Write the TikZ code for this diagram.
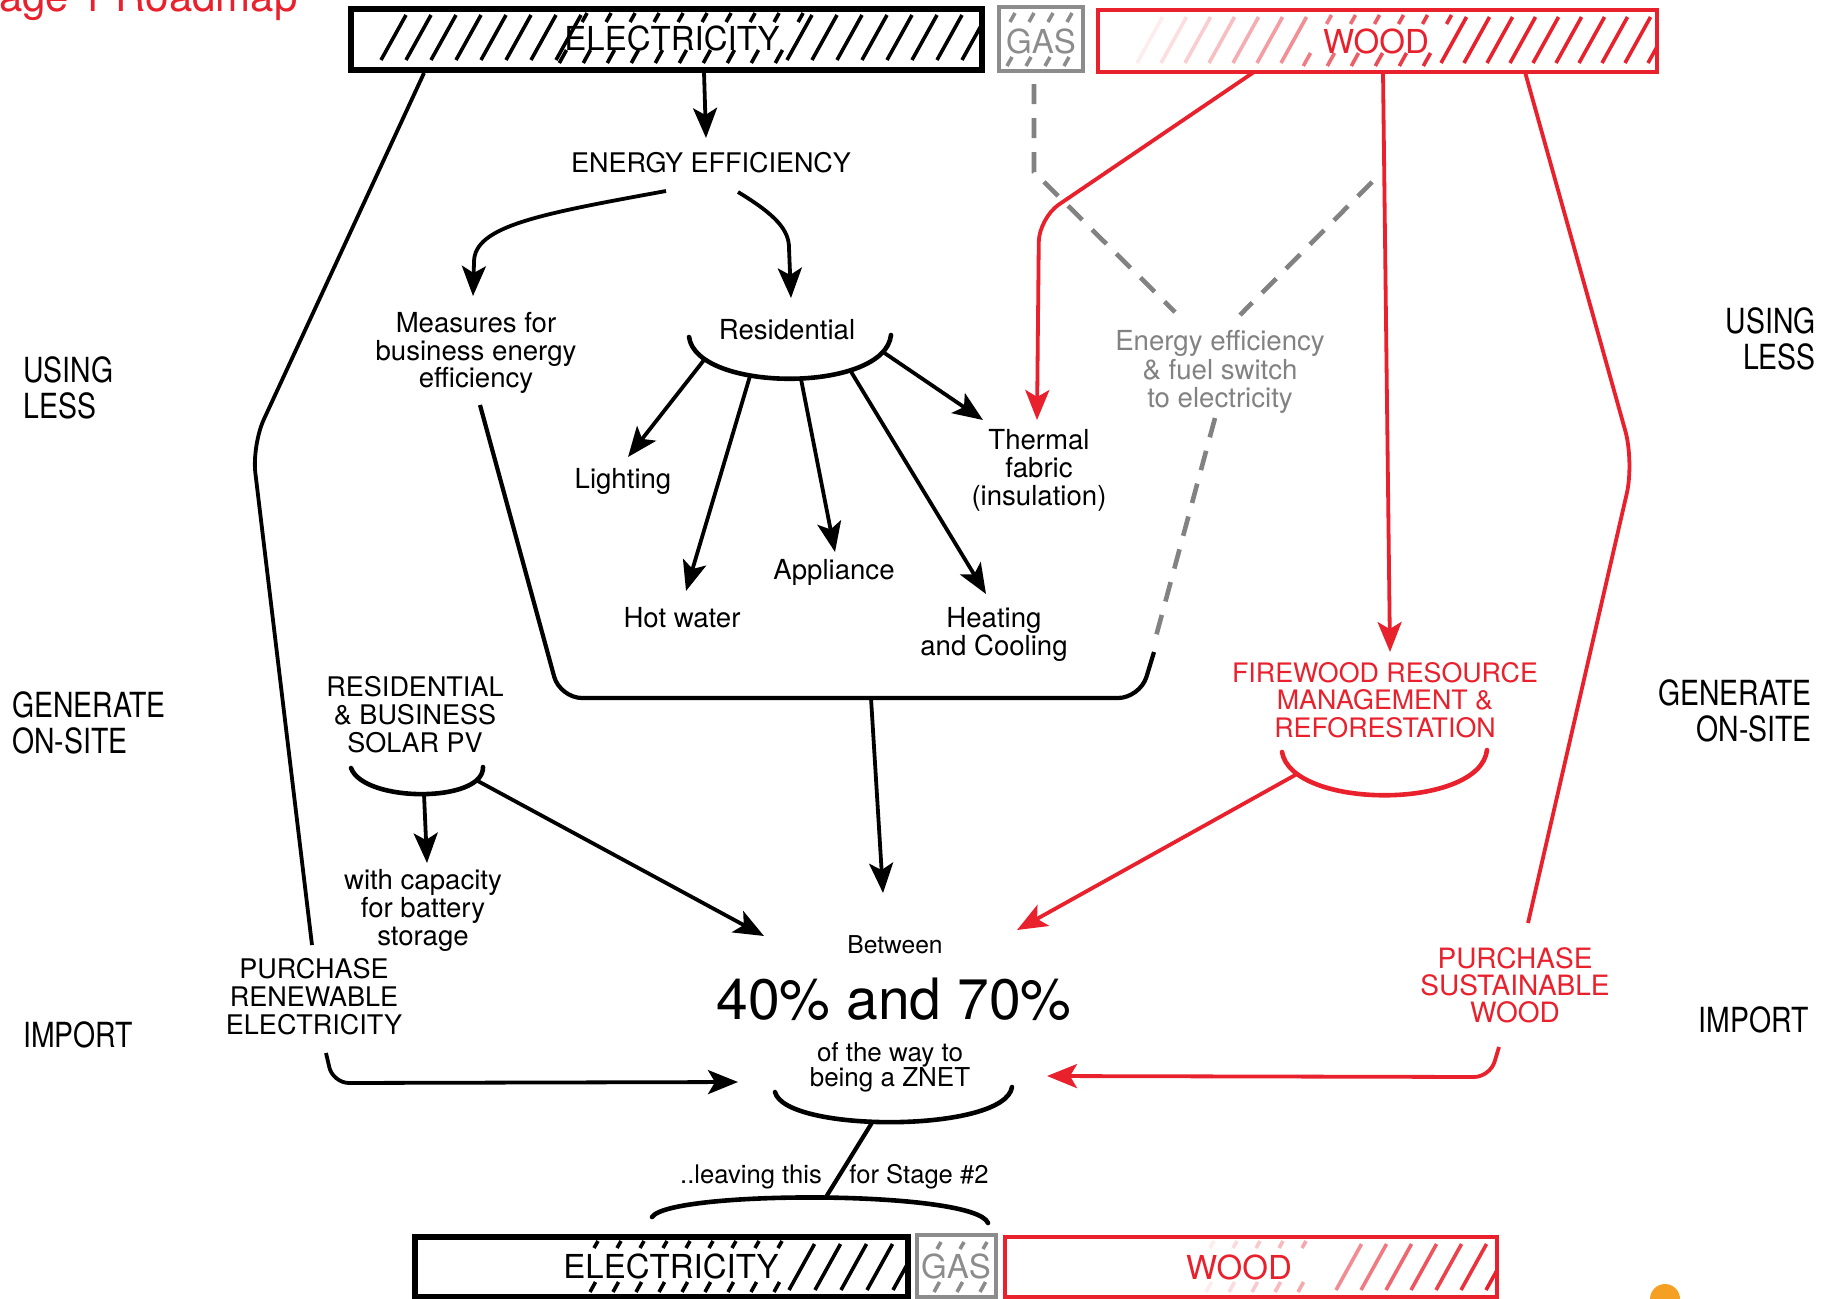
\documentclass[tikz,border=0pt]{standalone}
\usepackage{fontspec}
\setmainfont{TeX Gyre Heros}
\newfontfamily\condfont[FakeStretch=0.82]{TeX Gyre Heros}
\usetikzlibrary{arrows.meta}
\definecolor{wred}{RGB}{232,33,45}
\definecolor{wgray}{RGB}{130,130,130}
\definecolor{gasgray}{RGB}{140,140,140}
\definecolor{sunorange}{RGB}{245,160,35}
\tikzset{
  conn/.style={line width=1.9pt, draw=black},
  arr/.style={conn, -{Stealth[length=15pt,width=12pt,inset=3.5pt]}},
  redconn/.style={line width=1.9pt, draw=wred},
  redarr/.style={redconn, -{Stealth[length=15pt,width=12pt,inset=3.5pt]}},
  bracestyle/.style={line width=2.3pt, draw=black, line cap=round},
  redbrace/.style={line width=2.3pt, draw=wred, line cap=round},
  gdash/.style={draw=wgray, line width=2.3pt, dash pattern=on 10pt off 7pt},
  hatchline/.style={line width=1.8pt},
  lbl/.style={font=\fontsize{13.8}{14}\selectfont, align=center, inner sep=0pt},
  capslbl/.style={font=\fontsize{13.5}{14}\selectfont, align=center, inner sep=0pt},
  sidelbl/.style={font=\condfont\fontsize{17.3}{17.8}\selectfont, inner sep=0pt},
  boxlbl/.style={font=\fontsize{16.5}{18}\selectfont, inner sep=0pt},
  boxshape/.style={rectangle, inner sep=0pt},
}
\begin{document}
\begin{tikzpicture}[x=0.5pt,y=-0.5pt]
\useasboundingbox (0,0) rectangle (1830,1298);
\clip (0,0) rectangle (1830,1298);
\fill[white] (0,0) rectangle (1830,1298);

% ---------- title fragment ----------
\node[anchor=base east, text=wred, font=\fontsize{21}{24}\selectfont, inner sep=0pt] (title) at (298,11) {Stage 1 Roadmap};

% ---------- top hatching ----------
\begin{scope}
\clip (353,11) rectangle (980,68);
\foreach \x in {381,406,...,556} \draw[hatchline] (\x,60) -- ++(25,-45);
\foreach \x in {561,585,...,777} {\draw[hatchline] (\x-1.7,63) -- ++(7.2,-13); \draw[hatchline] (\x+21.1,22) -- ++(5,-9);}
\foreach \x in {787,812,...,962} \draw[hatchline] (\x,60) -- ++(25,-45);
\end{scope}
\begin{scope}
\clip (1001,9) rectangle (1081,69);
\foreach \x in {1007,1026,1045,1064} {\draw[hatchline, draw=gasgray] (\x,66) -- ++(5,-9); \draw[hatchline, draw=gasgray] (\x+3,22) -- ++(5,-9);}
\end{scope}
\begin{scope}
\clip (1100,12) rectangle (1655,70);
\foreach \x in {1137,1161,...,1281} {\pgfmathtruncatemacro\p{max(6,min(100,(\x-1110)/3.3))}\draw[hatchline, draw=wred!\p!white] (\x,63) -- ++(25.5,-46);}
\foreach \x in {1305,1329,...,1425} {\pgfmathtruncatemacro\p{max(6,min(100,(\x-1110)/3.3))}\draw[hatchline, draw=wred!\p!white] (\x-1.7,66) -- ++(7.2,-13); \draw[hatchline, draw=wred!\p!white] (\x+21.5,24) -- ++(5,-9);}
\foreach \x in {1441,1464,...,1648} \draw[hatchline, draw=wred] (\x,63) -- ++(25.5,-46);
\end{scope}

% ---------- bottom hatching ----------
\begin{scope}
\clip (417,1239) rectangle (906,1298);
\foreach \x in {590,613,...,781} {\draw[hatchline] (\x,1292) -- ++(5.5,-10); \draw[hatchline] (\x+4,1248) -- ++(4,-7);}
\foreach \x in {789,815,...,897} \draw[hatchline] (\x,1290) -- ++(25.5,-46);
\end{scope}
\begin{scope}
\clip (919,1237) rectangle (994,1298);
\foreach \x in {934,957,980} {\draw[hatchline, draw=gasgray] (\x,1292) -- ++(5.5,-10); \draw[hatchline, draw=gasgray] (\x+3,1249) -- ++(4,-7);}
\end{scope}
\begin{scope}
\clip (1007,1239) rectangle (1495,1298);
\foreach \x in {1206,1229,...,1320} {\pgfmathtruncatemacro\p{max(6,min(100,(\x-1180)/3))}\draw[hatchline, draw=wred!\p!white] (\x,1292) -- ++(5.5,-10); \draw[hatchline, draw=wred!\p!white] (\x+4,1248) -- ++(4,-7);}
\foreach \x in {1336,1361,...,1486} {\pgfmathtruncatemacro\p{max(6,min(100,(\x-1180)/3))}\draw[hatchline, draw=wred!\p!white] (\x,1290) -- ++(25.5,-46);}
\end{scope}

% ---------- boxes ----------
\node[boxshape, draw=black, line width=2.6pt, minimum width=315.5pt, minimum height=30.5pt] (elecTop) at (666.5,39.5) {};
\node[boxshape, draw=gasgray, line width=1.8pt, minimum width=42pt, minimum height=32pt] (gasTop) at (1041,39) {};
\node[boxshape, draw=wred, line width=2.1pt, minimum width=279.5pt, minimum height=31pt] (woodTop) at (1377.5,41) {};
\node[boxshape, draw=black, line width=2.6pt, minimum width=246.5pt, minimum height=30pt] (elecBot) at (661.5,1267) {};
\node[boxshape, draw=gasgray, line width=1.8pt, minimum width=39.5pt, minimum height=31pt] (gasBot) at (956.5,1266) {};
\node[boxshape, draw=wred, line width=2.1pt, minimum width=246pt, minimum height=30pt] (woodBot) at (1251,1267) {};

\node[boxlbl] (elecTopT) at (672,38.5) {ELECTRICITY};
\node[boxlbl, text=gasgray] (gasTopT) at (1041,41) {GAS};
\node[boxlbl, text=wred] (woodTopT) at (1376,41) {WOOD};
\node[boxlbl] (elecBotT) at (671,1266) {ELECTRICITY};
\node[boxlbl, text=gasgray] (gasBotT) at (956,1266) {GAS};
\node[boxlbl, text=wred] (woodBotT) at (1239,1267) {WOOD};

% ---------- side labels ----------
\node[sidelbl, anchor=west, align=left] (usingL) at (23,388) {USING\\LESS};
\node[sidelbl, anchor=west, align=left] (genL) at (12,723) {GENERATE\\ON-SITE};
\node[sidelbl, anchor=west] (impL) at (23,1035) {IMPORT};
\node[sidelbl, anchor=east, align=right] (usingR) at (1816,339) {USING\\LESS};
\node[sidelbl, anchor=east, align=right] (genR) at (1812,711) {GENERATE\\ON-SITE};
\node[sidelbl, anchor=east] (impR) at (1809,1020) {IMPORT};

% ---------- text nodes ----------
\node[font=\fontsize{13.5}{14}\selectfont, inner sep=0pt] (ee) at (711,163) {ENERGY EFFICIENCY};
\node[lbl, font=\fontsize{13.8}{13.7}\selectfont] (meas) at (476,353) {Measures for\\business energy\\efficiency};
\node[lbl] (res) at (787,330) {Residential};
\node[lbl] (light) at (623,481) {Lighting};
\node[lbl] (hot) at (682,618) {Hot water};
\node[lbl] (appl) at (834,572) {Appliance};
\node[lbl] (heat) at (994,634) {Heating\\and Cooling};
\node[lbl] (therm) at (1039,470) {Thermal\\fabric\\(insulation)};
\node[lbl, text=wgray, font=\fontsize{13.8}{14.2}\selectfont] (gtext) at (1220,372) {Energy efficiency\\\& fuel switch\\to electricity};
\node[capslbl, text=wred, font=\fontsize{13.4}{13.7}\selectfont] (fire) at (1385,700) {FIREWOOD RESOURCE\\MANAGEMENT \&\\REFORESTATION};
\node[capslbl] (solar) at (415,715) {RESIDENTIAL\\\& BUSINESS\\SOLAR PV};
\node[lbl] (batt) at (423,910) {with capacity\\for battery\\storage};
\node[capslbl] (pren) at (314,997) {PURCHASE\\RENEWABLE\\ELECTRICITY};
\node[capslbl, text=wred, font=\fontsize{14}{13.6}\selectfont] (psw) at (1515,985) {PURCHASE\\SUSTAINABLE\\WOOD};
\node[inner sep=0pt, font=\fontsize{12.3}{14}\selectfont] (btw) at (895,945) {Between};
\node[inner sep=0pt, font=\fontsize{28.5}{30}\selectfont] (pct) at (894,999) {40\% and 70\%};
\node[lbl, font=\fontsize{13}{12.5}\selectfont] (znet) at (890,1067) {of the way to\\being a ZNET};
\node[inner sep=0pt, font=\fontsize{12.8}{14}\selectfont] (leave) at (751,1177) {..leaving this};
\node[inner sep=0pt, font=\fontsize{12.8}{14}\selectfont] (stage2) at (919,1177) {for Stage \#2};

% ---------- coordinates ----------
\coordinate (elecS) at (704,72);
\coordinate (eeN) at (706,138);
\coordinate (eeL) at (666,191);
\coordinate (measTip) at (473,296);
\coordinate (eeR) at (738,192);
\coordinate (resTip) at (791,298);
\coordinate (elecSW) at (424,73);
\coordinate (lbend) at (252,445);
\coordinate (prenTop) at (312,945);
\coordinate (rbL) at (689,337);
\coordinate (rbR) at (891,335);
\coordinate (rb1) at (704,360);
\coordinate (rb2) at (750,376);
\coordinate (rb3) at (801,379);
\coordinate (rb4) at (850,370);
\coordinate (rb5) at (883,352);
\coordinate (tLight) at (628,457);
\coordinate (tHot) at (686,591);
\coordinate (tAppl) at (835,552);
\coordinate (tHeat) at (986,594);
\coordinate (tTherm) at (983,420);
\coordinate (measS) at (480,405);
\coordinate (brBL) at (560,698);
\coordinate (brBR) at (1140,698);
\coordinate (brTop) at (1154,652);
\coordinate (brMid) at (871,698);
\coordinate (btwTip) at (883,893);
\coordinate (gasS) at (1034,72);
\coordinate (gBend) at (1034,172);
\coordinate (gL) at (1175,312);
\coordinate (gRtop) at (1372,182);
\coordinate (gR) at (1240,315);
\coordinate (gtS) at (1215,418);
\coordinate (gBot) at (1155,640);
\coordinate (sbL) at (351,768);
\coordinate (sbR) at (483,767);
\coordinate (sol1) at (424,794);
\coordinate (battTip) at (427,863);
\coordinate (sol2) at (476,780);
\coordinate (pctTip) at (764,936);
\coordinate (pren1) at (326,1053);
\coordinate (pren2) at (333,1083);
\coordinate (prenTip) at (738,1082);
\coordinate (woodS1) at (1254,72);
\coordinate (rBend1) at (1039,218);
\coordinate (thermTip) at (1037,420);
\coordinate (woodS2) at (1383,72);
\coordinate (fireTip) at (1390,652);
\coordinate (woodS3) at (1525,72);
\coordinate (rBend2) at (1634,462);
\coordinate (pswTop) at (1528,923);
\coordinate (fbL) at (1282,752);
\coordinate (fbR) at (1487,750);
\coordinate (fw1) at (1297,774);
\coordinate (fwTip) at (1017,930);
\coordinate (psw1) at (1499,1047);
\coordinate (psw2) at (1490,1077);
\coordinate (pswTip) at (1047,1076);
\coordinate (zbL) at (775,1092);
\coordinate (zbR) at (1012,1087);
\coordinate (zn1) at (873,1121);
\coordinate (zn2) at (826,1197);
\coordinate (abL) at (652,1217);
\coordinate (abR) at (988,1223);

% ---------- gray dashed ----------
\draw[gdash, dash phase=-6pt] (gasS) -- (gBend) -- (gL);
\draw[gdash] (gRtop) -- (gR);
\draw[gdash] (gtS) -- (gBot);

% ---------- black connectors ----------
\draw[arr] (elecS) -- (eeN);
\draw[arr] (eeL) .. controls (540,214) and (474,226) .. (474,262) -- (measTip);
\draw[arr] (eeR) .. controls (776,215) and (789,230) .. (789,248) -- (resTip);
\draw[conn, rounded corners=14pt] (elecSW) -- (lbend) -- (prenTop);
\draw[bracestyle] (rbL) .. controls (697,393) and (885,393) .. (rbR);
\draw[arr] (rb1) -- (tLight);
\draw[arr] (rb2) -- (tHot);
\draw[arr] (rb3) -- (tAppl);
\draw[arr] (rb4) -- (tHeat);
\draw[arr] (rb5) -- (tTherm);
\draw[conn, line width=2.1pt, rounded corners=11pt] (measS) -- (brBL) -- (brBR) -- (brTop);
\draw[arr] (brMid) -- (btwTip);
\draw[bracestyle] (sbL) .. controls (364,803) and (484,803) .. (sbR);
\draw[arr] (sol1) -- (battTip);
\draw[arr] (sol2) -- (pctTip);
\draw[arr, rounded corners=8pt] (pren1) -- (pren2) -- (prenTip);
\draw[bracestyle] (zbL) .. controls (785,1133) and (1005,1133) .. (zbR);
\draw[conn, line width=2.1pt] (zn1) -- (zn2);
\draw[bracestyle] (abL) .. controls (670,1190) and (975,1190) .. (abR);

% ---------- red connectors ----------
\draw[redarr, rounded corners=12pt] (woodS1) -- (rBend1) -- (thermTip);
\draw[redarr] (woodS2) -- (fireTip);
\draw[redconn, rounded corners=16pt] (woodS3) -- (rBend2) -- (pswTop);
\draw[redbrace] (fbL) .. controls (1292,810) and (1480,810) .. (fbR);
\draw[redarr] (fw1) -- (fwTip);
\draw[redarr, rounded corners=8pt] (psw1) -- (psw2) -- (pswTip);

% ---------- orange dot ----------
\fill[sunorange] (1665,1299) circle (15);
\end{tikzpicture}
\end{document}
